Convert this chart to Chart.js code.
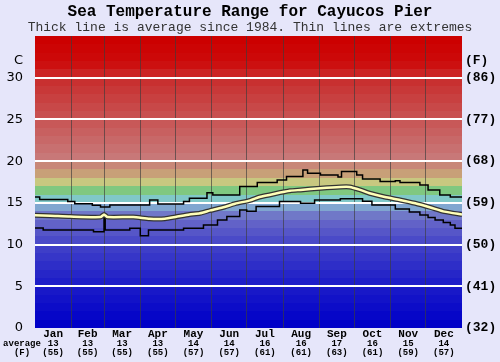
<!DOCTYPE html>
<html>
<head>
<meta charset="utf-8">
<script src="https://cdn.jsdelivr.net/npm/chart.js@4/dist/chart.umd.min.js"></script>
<style>
  html, body { margin: 0; padding: 0; background: #e6e6fa; }
  #wrap { width: 500px; height: 362px; }
</style>
</head>
<body>
<div id="wrap"><canvas id="chart" width="500" height="362"></canvas></div>
<script>
// month labels along the bottom
var months = ['Jan', 'Feb', 'Mar', 'Apr', 'May', 'Jun', 'Jul', 'Aug', 'Sep', 'Oct', 'Nov', 'Dec'];
var monthAvgC = [13, 13, 13, 13, 14, 14, 16, 16, 17, 16, 15, 14];
var monthAvgF = [55, 55, 55, 55, 57, 57, 61, 61, 63, 61, 59, 57];
var monthStartDays = [0, 31, 59, 90, 120, 151, 181, 212, 243, 273, 304, 334, 365];

// axis ticks
var yTicksC = [0, 5, 10, 15, 20, 25, 30];
var yTicksF = [32, 41, 50, 59, 68, 77, 86];

// extremes (value holds from that day on)
var maxDays  = [0, 4, 28, 34, 49, 56, 64, 98, 105, 127, 132, 147, 152, 175, 190, 207, 215, 229, 233, 244, 259, 262, 275, 280, 295, 308, 312, 329, 336, 346, 355, 365];
var maxTemps = [15.7, 15.4, 15.15, 14.9, 14.7, 14.5, 14.75, 15.35, 14.85, 15.15, 15.55, 16.2, 15.95, 16.95, 17.45, 17.75, 18.15, 18.95, 18.55, 18.35, 18.1, 18.75, 18.35, 17.85, 17.55, 17.65, 17.45, 17.15, 16.55, 15.95, 15.7, 15.7];

var minDays  = [0, 7, 50, 59, 60, 81, 90, 97, 127, 144, 156, 164, 175, 181, 189, 209, 227, 239, 261, 280, 288, 308, 320, 329, 336, 342, 349, 355, 359, 365];
var minTemps = [12.0, 11.75, 11.55, 13.4, 11.75, 11.95, 11.05, 11.75, 11.95, 12.35, 12.95, 13.35, 14.15, 14.0, 14.55, 15.15, 14.95, 15.35, 15.5, 15.2, 14.75, 14.25, 13.9, 13.55, 13.25, 12.95, 12.65, 12.35, 11.95, 12.0];

// average since 1984
var avgDays  = [0, 13, 30, 56, 59, 62, 84, 98, 111, 120, 132, 141, 150, 162, 171, 184, 192, 205, 218, 227, 244, 261, 269, 278, 286, 299, 312, 325, 338, 350, 365];
var avgTemps = [13.5, 13.45, 13.35, 13.3, 13.6, 13.3, 13.3, 13.1, 13.1, 13.3, 13.6, 13.75, 14.1, 14.5, 14.9, 15.3, 15.7, 16.1, 16.45, 16.55, 16.75, 16.9, 16.9, 16.55, 16.15, 15.7, 15.35, 14.95, 14.45, 13.95, 13.6];

// one colour per degree, 0..35 C
var bandColors = [
  '#0000c8', '#0606c8', '#0c0cc8', '#1212c8', '#1818c8', '#1e1ec8', '#2626c8', '#2e2ec8', '#3636c8', '#3e3ec8',
  '#4a4ac8', '#5656c8', '#6262c8', '#7078c8', '#80a6d0', '#80c8c8', '#80c880', '#c8c880', '#c8a078', '#c88878',
  '#c87878', '#c87070', '#c86868', '#c86060', '#c85858', '#c85050', '#c84848', '#c84040', '#c83838', '#c83030',
  '#cc2424', '#cc1010', '#cc0808', '#cc0404', '#cc0000'
];

var pageBg = '#e6e6fa';
var labelAt = 32;

function pts(xs, ys) {
  return xs.map(function(d, i) { return { x: d, y: ys[i] }; });
}

var monthMid = months.map(function(m, i) { return (monthStartDays[i] + monthStartDays[i + 1]) / 2; });

var bandPlugin = {
  id: 'bands',
  beforeDraw: function(chart) {
    var ctx = chart.ctx, a = chart.chartArea, y = chart.scales.y;
    ctx.save();
    ctx.fillStyle = pageBg;
    ctx.fillRect(0, 0, chart.width, chart.height);
    bandColors.forEach(function(col, i) {
      var top = Math.round(y.getPixelForValue(i + 1));
      var bot = Math.round(y.getPixelForValue(i));
      ctx.fillStyle = col;
      ctx.fillRect(a.left, top, a.right - a.left, bot - top);
    });
    ctx.restore();
  },
  afterDraw: function(chart) {
    var ctx = chart.ctx, a = chart.chartArea, xn = chart.scales.xn;
    ctx.save();
    ctx.fillStyle = '#000';
    ctx.font = 'bold 9px "Liberation Mono"';
    ctx.textAlign = 'center';
    ctx.textBaseline = 'middle';
    ctx.fillText('average', a.left - 13, xn.top + 4.5);
    ctx.fillText('(F)', a.left - 13, xn.top + 14);
    ctx.restore();
  }
};

var monoBold = function(size) { return { family: 'Liberation Mono', size: size, weight: 'bold' }; };

new Chart(document.getElementById('chart'), {
  type: 'line',
  data: {
    datasets: [
      { data: pts(maxDays, maxTemps), stepped: true, borderColor: '#000', borderWidth: 1.5, pointRadius: 0, order: 3 },
      { data: pts(minDays, minTemps), stepped: true, borderColor: '#000', borderWidth: 1.5, pointRadius: 0, order: 3 },
      { data: pts(avgDays, avgTemps), borderColor: '#333', borderWidth: 5, pointRadius: 0, tension: 0.2, order: 2 },
      { data: pts(avgDays, avgTemps), borderColor: '#ffffb8', borderWidth: 2.5, pointRadius: 0, tension: 0.2, order: 1 }
    ]
  },
  options: {
    responsive: false,
    animation: false,
    layout: { padding: 0 },
    plugins: {
      legend: { display: false },
      tooltip: { enabled: false },
      title: {
        display: true,
        text: 'Sea Temperature Range for Cayucos Pier',
        color: '#000',
        font: { family: 'Liberation Mono', size: 16, weight: 'bold', lineHeight: 1 },
        padding: { top: 4, bottom: 0 }
      },
      subtitle: {
        display: true,
        text: 'Thick line is average since 1984. Thin lines are extremes',
        color: '#333',
        font: { family: 'Liberation Mono', size: 13, lineHeight: 1 },
        padding: { top: 1, bottom: 2 }
      }
    },
    scales: {
      x: {
        type: 'linear', min: 0, max: 365, position: 'bottom', weight: 0,
        afterBuildTicks: function(s) { s.ticks = monthMid.map(function(v) { return { value: v }; }); },
        ticks: {
          autoSkip: false, maxRotation: 0, padding: 0, color: '#000', font: monoBold(11),
          callback: function(v, i) { return months[i]; }
        },
        grid: { display: false, drawTicks: false },
        border: { display: false },
        afterFit: function(s) { s.height = 11; }
      },
      xn: {
        type: 'linear', min: 0, max: 365, position: 'bottom', weight: 1,
        afterBuildTicks: function(s) { s.ticks = monthMid.map(function(v) { return { value: v }; }); },
        ticks: {
          autoSkip: false, maxRotation: 0, padding: 0, color: '#000',
          font: { family: 'Liberation Mono', size: 9, weight: 'bold', lineHeight: 1.05 },
          callback: function(v, i) { return [String(monthAvgC[i]), '(' + monthAvgF[i] + ')']; }
        },
        grid: { display: false, drawTicks: false },
        border: { display: false },
        afterFit: function(s) { s.height = 23; }
      },
      xg: {
        type: 'linear', min: 0, max: 365, position: 'top',
        afterBuildTicks: function(s) { s.ticks = monthStartDays.slice(1, 12).map(function(v) { return { value: v }; }); },
        ticks: { display: false },
        grid: { color: 'rgba(60,60,60,0.65)', lineWidth: 1, drawTicks: false },
        border: { display: false },
        afterFit: function(s) { s.height = 0; }
      },
      y: {
        min: 0, max: 35, position: 'left',
        afterBuildTicks: function(s) { s.ticks = yTicksC.concat([labelAt]).map(function(v) { return { value: v }; }); },
        ticks: {
          padding: 12, color: '#000',
          font: { family: 'DejaVu Sans', size: 13 },
          callback: function(v) { return v === labelAt ? 'C' : String(v); }
        },
        grid: {
          drawTicks: false, lineWidth: 2,
          color: function(c) {
            var v = c.tick ? c.tick.value : 0;
            return (v > 0 && v < 35 && v % 5 === 0) ? '#ffffff' : 'rgba(0,0,0,0)';
          }
        },
        border: { display: false },
        afterFit: function(s) { s.width = 35; }
      },
      y2: {
        min: 0, max: 35, position: 'right',
        afterBuildTicks: function(s) { s.ticks = yTicksC.concat([labelAt]).map(function(v) { return { value: v }; }); },
        ticks: {
          padding: 3, color: '#000', font: monoBold(13),
          callback: function(v) {
            if (v === labelAt) return '(F)';
            return '(' + yTicksF[yTicksC.indexOf(v)] + ')';
          }
        },
        grid: { display: false, drawTicks: false },
        border: { display: false },
        afterFit: function(s) { s.width = 38; }
      }
    }
  },
  plugins: [bandPlugin]
});
</script>
</body>
</html>
